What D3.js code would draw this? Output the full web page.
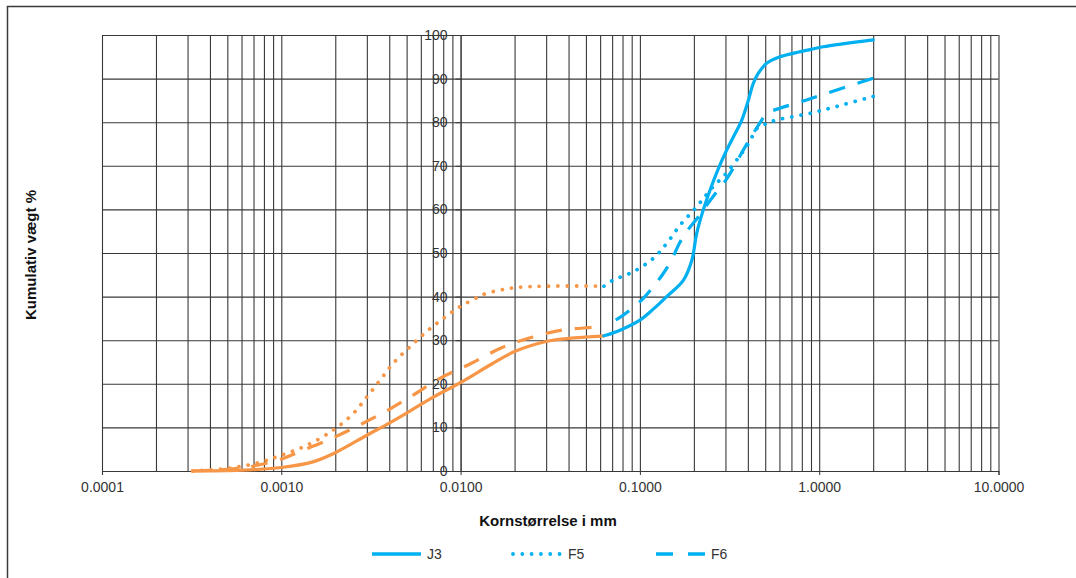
<!DOCTYPE html>
<html>
<head>
<meta charset="utf-8">
<script src="https://cdn.jsdelivr.net/npm/d3@7"></script>
<style>
  body { margin: 0; background: #fff; }
  svg { display: block; }
  text { font-family: "Liberation Sans", Arial, sans-serif; }
</style>
</head>
<body>
<svg id="chart" width="1076" height="578"></svg>
<script>
// Grain size distribution: cumulative weight % vs grain size (mm), log scale.
// Fine fraction (hydrometer, < 0.063 mm) in orange, sieve fraction in blue.

const seriesNames = ["J3", "F5", "F6"];

// J3
const j3FineSize   = [0.00032, 0.0005, 0.0007, 0.001, 0.0015, 0.002, 0.003, 0.004, 0.005, 0.007, 0.01, 0.015, 0.02, 0.03, 0.04, 0.063];
const j3FineValue  = [0, 0.1, 0.3, 0.8, 2.1, 4.2, 8.2, 11.0, 13.3, 16.9, 20.3, 24.6, 27.4, 29.7, 30.4, 31.0];
const j3SieveSize  = [0.063, 0.0775, 0.1, 0.12, 0.141, 0.175, 0.195, 0.2074, 0.2257, 0.246, 0.2735, 0.3, 0.332, 0.37, 0.403, 0.429, 0.457, 0.509, 0.604, 0.75, 0.9, 1.05, 2.0];
const j3SieveValue = [31.0, 32.3, 34.6, 37.3, 40.0, 43.8, 48.4, 54.5, 59.9, 64.4, 69.3, 73.0, 76.6, 80.5, 85.1, 88.9, 91.2, 93.5, 95.0, 96.0, 96.7, 97.3, 98.9];

// F5
const f5FineSize   = [0.00032, 0.0005, 0.00073, 0.00098, 0.00139, 0.00195, 0.00252, 0.00299, 0.00355, 0.00421, 0.00522, 0.00647, 0.00801, 0.00993, 0.012, 0.0134, 0.0166, 0.0206, 0.0302, 0.063];
const f5FineValue  = [0, 0.6, 1.8, 3.5, 5.9, 9.4, 13.2, 16.9, 20.8, 24.7, 28.5, 32.0, 35.0, 37.7, 39.5, 40.5, 41.5, 42.1, 42.4, 42.4];
const f5SieveSize  = [0.063, 0.0711, 0.0918, 0.119, 0.141, 0.167, 0.199, 0.221, 0.251, 0.303, 0.37, 0.409, 0.448, 0.509, 0.579, 0.88, 1.055, 2.0];
const f5SieveValue = [42.4, 43.8, 45.7, 48.8, 52.2, 56.3, 59.8, 62.0, 64.8, 68.3, 72.9, 75.5, 78.5, 79.7, 80.5, 82.0, 82.8, 85.9];

// F6
const f6FineSize   = [0.00032, 0.0005, 0.00065, 0.00098, 0.00124, 0.00187, 0.00272, 0.00387, 0.00543, 0.0077, 0.0115, 0.0168, 0.0247, 0.0367, 0.0557, 0.063];
const f6FineValue  = [0, 0.4, 0.9, 2.6, 4.3, 7.3, 10.5, 13.8, 17.4, 21.3, 24.7, 28.2, 30.6, 32.3, 33.0, 33.3];
const f6SieveSize  = [0.063, 0.0759, 0.0881, 0.1045, 0.119, 0.135, 0.15, 0.167, 0.186, 0.212, 0.236, 0.2735, 0.3, 0.332, 0.37, 0.43, 0.47, 0.509, 0.604, 0.851, 1.253, 2.0];
const f6SieveValue = [33.3, 35.0, 36.9, 39.6, 42.3, 45.3, 48.4, 52.4, 55.4, 58.3, 61.0, 64.5, 66.6, 69.5, 73.0, 77.5, 80.0, 82.0, 83.2, 85.1, 87.4, 90.1];

const xTickValues = [0.0001, 0.001, 0.01, 0.1, 1, 10];
const xTickLabels = ["0.0001", "0.0010", "0.0100", "0.1000", "1.0000", "10.0000"];
const yTickValues = [0, 10, 20, 30, 40, 50, 60, 70, 80, 90, 100];
const xTitle = "Kornstørrelse i mm";
const yTitle = "Kumulativ vægt %";

const ORANGE = "#F79646";
const BLUE = "#00B0F0";
const GRID = "#383838";
const FONT = "'Liberation Sans', Arial, sans-serif";

const svg = d3.select("#chart");
const plot = { left: 102, right: 998.5, top: 35, bottom: 471 };

// outer frame
svg.append("rect")
  .attr("x", 7.5).attr("y", 6.5)
  .attr("width", 1100).attr("height", 620)
  .attr("fill", "none").attr("stroke", "#3a3a3a").attr("stroke-width", 1.5);

const x = d3.scaleLog().domain([0.0001, 10]).range([plot.left, plot.right]);
const y = d3.scaleLinear().domain([0, 100]).range([plot.bottom, plot.top]);

// vertical grid (1..9 per decade)
svg.append("g")
  .attr("transform", `translate(0,${plot.bottom})`)
  .call(d3.axisBottom(x).ticks(10).tickSize(-(plot.bottom - plot.top)).tickFormat(""))
  .call(g => g.select(".domain").remove())
  .call(g => g.selectAll("line").attr("stroke", GRID).attr("stroke-width", 1.1));

// horizontal grid
svg.append("g")
  .attr("transform", `translate(${plot.left},0)`)
  .call(d3.axisLeft(y).tickValues(yTickValues).tickSize(-(plot.right - plot.left)).tickFormat(""))
  .call(g => g.select(".domain").remove())
  .call(g => g.selectAll("line").attr("stroke", GRID).attr("stroke-width", 1.1));

// x axis: labelled decades
svg.append("g")
  .attr("transform", `translate(0,${plot.bottom})`)
  .call(d3.axisBottom(x).tickValues(xTickValues).tickSize(4).tickPadding(7)
        .tickFormat((d, i) => xTickLabels[i]))
  .call(g => g.select(".domain").attr("stroke", GRID).attr("stroke-width", 1.1))
  .call(g => g.selectAll("line").attr("stroke", GRID))
  .call(g => g.selectAll("text").attr("fill", "#333").style("font-size", "14px")
        .style("font-family", FONT));

// y axis crossing at 0.01 mm
svg.append("g")
  .attr("transform", `translate(${x(0.01)},0)`)
  .call(d3.axisLeft(y).tickValues(yTickValues).tickSize(5).tickPadding(8))
  .call(g => g.select(".domain").attr("stroke", GRID))
  .call(g => g.selectAll("line").attr("stroke", GRID))
  .call(g => g.selectAll("text").attr("fill", "#333").style("font-size", "14px")
        .style("font-family", FONT));

// axis titles
svg.append("text")
  .attr("x", 548).attr("y", 526)
  .attr("text-anchor", "middle")
  .style("font-size", "15px").style("font-weight", "bold")
  .attr("fill", "#111")
  .text(xTitle);

svg.append("text")
  .attr("transform", "translate(36,255) rotate(-90)")
  .attr("text-anchor", "middle")
  .style("font-size", "15px").style("font-weight", "bold")
  .attr("fill", "#111")
  .text(yTitle);

// line styles per series
const styles = {
  J3: { dash: null, cap: "round", width: 3.2 },
  F5: { dash: "0.01 9.3", cap: "round", width: 3.8 },
  F6: { dash: "16.5 13", cap: "butt", width: 3.2 }
};

const line = d3.line()
  .x(d => x(d[0]))
  .y(d => y(d[1]))
  .curve(d3.curveCatmullRom.alpha(0.5));

const zip = (a, b) => a.map((v, i) => [v, b[i]]);

const curves = [
  { name: "J3", fine: zip(j3FineSize, j3FineValue), sieve: zip(j3SieveSize, j3SieveValue) },
  { name: "F5", fine: zip(f5FineSize, f5FineValue), sieve: zip(f5SieveSize, f5SieveValue) },
  { name: "F6", fine: zip(f6FineSize, f6FineValue), sieve: zip(f6SieveSize, f6SieveValue) }
];

const lines = svg.append("g");
curves.forEach(c => {
  const s = styles[c.name];
  [[c.fine, ORANGE, 0], [c.sieve, BLUE, c.name === "F6" ? 16.5 : 0]].forEach(([data, color, offset]) => {
    lines.append("path")
      .attr("d", line(data))
      .attr("fill", "none")
      .attr("stroke", color)
      .attr("stroke-width", s.width)
      .attr("stroke-linecap", s.cap)
      .attr("stroke-linejoin", "round")
      .attr("stroke-dasharray", s.dash)
      .attr("stroke-dashoffset", offset);
  });
});

// legend
const legendX = [372, 513, 656];
const legendY = 554;
const legendDash = { J3: null, F5: "0.01 9.3", F6: "17 15" };
seriesNames.forEach((name, i) => {
  const g = svg.append("g").attr("transform", `translate(${legendX[i]},${legendY})`);
  g.append("line")
    .attr("x1", 0).attr("x2", name === "F5" ? 47 : 49)
    .attr("y1", 0).attr("y2", 0)
    .attr("stroke", BLUE)
    .attr("stroke-width", name === "F5" ? 3.8 : 3.6)
    .attr("stroke-linecap", name === "F5" ? "round" : "butt")
    .attr("stroke-dasharray", legendDash[name]);
  g.append("text")
    .attr("x", 55)
    .attr("y", 5)
    .style("font-size", "14px")
    .attr("fill", "#333")
    .text(name);
});
</script>
</body>
</html>
